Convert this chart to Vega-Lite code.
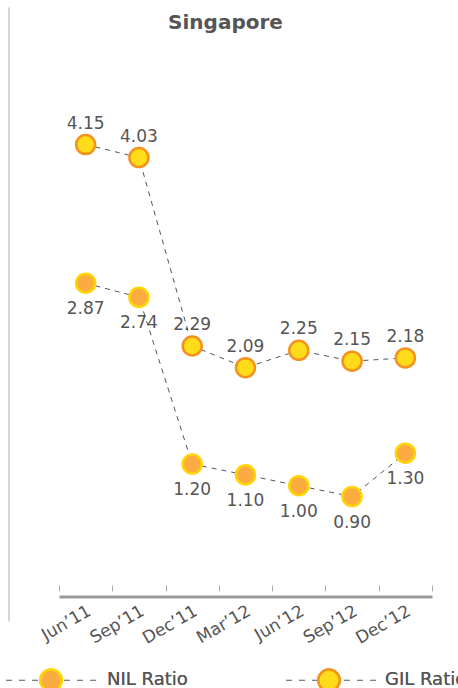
{
  "$schema": "https://vega.github.io/schema/vega-lite/v6.json",
  "width": 373,
  "height": 614,
  "autosize": {"type": "none"},
  "padding": {"left": 59, "top": 7, "right": 26, "bottom": 67},
  "background": "white",
  "title": {
    "text": "Singapore",
    "font": "DejaVu Sans",
    "fontSize": 20,
    "fontWeight": "bold",
    "color": "#555555",
    "baseline": "alphabetic",
    "offset": -42,
    "dx": -20
  },
  "data": {
    "values": [
      {"period": "Jun’11", "series": "NIL Ratio", "value": 2.87},
      {"period": "Sep’11", "series": "NIL Ratio", "value": 2.74},
      {"period": "Dec’11", "series": "NIL Ratio", "value": 1.20},
      {"period": "Mar’12", "series": "NIL Ratio", "value": 1.10},
      {"period": "Jun’12", "series": "NIL Ratio", "value": 1.00},
      {"period": "Sep’12", "series": "NIL Ratio", "value": 0.90},
      {"period": "Dec’12", "series": "NIL Ratio", "value": 1.30},
      {"period": "Jun’11", "series": "GIL Ratio", "value": 4.15},
      {"period": "Sep’11", "series": "GIL Ratio", "value": 4.03},
      {"period": "Dec’11", "series": "GIL Ratio", "value": 2.29},
      {"period": "Mar’12", "series": "GIL Ratio", "value": 2.09},
      {"period": "Jun’12", "series": "GIL Ratio", "value": 2.25},
      {"period": "Sep’12", "series": "GIL Ratio", "value": 2.15},
      {"period": "Dec’12", "series": "GIL Ratio", "value": 2.18}
    ]
  },
  "encoding": {
    "y": {
      "field": "value",
      "type": "quantitative",
      "scale": {"domain": [-0.249, 5.42], "nice": false, "zero": false},
      "axis": {
        "orient": "left",
        "offset": 50.5,
        "domain": true,
        "domainColor": "#c8c8c8",
        "domainWidth": 1.5,
        "ticks": false,
        "labels": false,
        "grid": false,
        "title": null
      }
    }
  },
  "layer": [
    {
      "transform": [{"filter": "false"}],
      "mark": {"type": "line", "color": "#555555", "strokeWidth": 1},
      "encoding": {
        "x": {"field": "period", "type": "ordinal", "sort": null, "scale": {"type": "band", "paddingInner": 0, "paddingOuter": 0}, "axis": null},
        "strokeDash": {
          "field": "series",
          "type": "nominal",
          "scale": {
            "domain": ["NIL Ratio", "GIL Ratio"],
            "range": [[6, 7, 6, 7, 6, 26, 6, 7, 6, 7, 6], [6, 7, 6, 7, 6, 26, 6, 7, 6, 7, 6]]
          },
          "legend": {
            "orient": "none",
            "legendX": -54.5,
            "legendY": 627.5,
            "direction": "horizontal",
            "title": null,
            "padding": 0,
            "symbolType": "stroke",
            "symbolSize": 8100,
            "symbolStrokeWidth": 1,
            "symbolStrokeColor": "#555555",
            "symbolOffset": 1,
            "symbolOpacity": 1,
            "labelExpr": "''",
            "labelFont": "DejaVu Sans",
            "labelFontSize": 18,
            "labelOffset": 11.5,
            "columnPadding": 175
          }
        }
      }
    },
    {
      "mark": {"type": "line", "color": "#555555", "strokeWidth": 1, "strokeDash": [5, 5]},
      "encoding": {
        "x": {
          "field": "period",
          "type": "ordinal",
          "sort": null,
          "scale": {"type": "band", "paddingInner": 0, "paddingOuter": 0},
          "axis": {
            "orient": "bottom",
            "offset": -36,
            "domain": false,
            "labels": false,
            "ticks": true,
            "tickSize": 6,
            "tickColor": "#aaaaaa",
            "tickWidth": 1,
            "tickBand": "extent",
            "grid": false,
            "title": null
          }
        },
        "detail": {"field": "series", "type": "nominal"}
      }
    },
    {
      "mark": {"type": "point", "filled": true, "size": 363, "strokeWidth": 2.5, "opacity": 1},
      "encoding": {
        "x": {
          "field": "period",
          "type": "ordinal",
          "sort": null,
          "scale": {"type": "band", "paddingInner": 0, "paddingOuter": 0},
          "axis": {
            "orient": "bottom",
            "offset": -24.5,
            "domain": true,
            "domainColor": "#999999",
            "domainWidth": 3,
            "ticks": false,
            "tickSize": 0,
            "labels": true,
            "labelAngle": -30,
            "labelAlign": "right",
            "labelBaseline": "top",
            "labelPadding": 6,
            "labelFont": "DejaVu Sans",
            "labelFontSize": 17,
            "labelColor": "#555555",
            "labelOverlap": false,
            "grid": false,
            "title": null
          }
        },
        "fill": {
          "field": "series",
          "type": "nominal",
          "sort": ["NIL Ratio", "GIL Ratio"],
          "scale": {"range": ["#FAAC41", "#FFDC1A"]},
          "legend": {
            "orient": "none",
            "legendX": -54.5,
            "legendY": 626.5,
            "direction": "horizontal",
            "title": null,
            "padding": 0,
            "symbolType": "M0.239,0A0.239,0.239,0,1,1,-0.239,0A0.239,0.239,0,1,1,0.239,0Z",
            "symbolSize": 8100,
            "symbolStrokeWidth": 2.5,
            "symbolFillColor": "#FAAC41",
            "symbolOpacity": 1,
            "labelFont": "DejaVu Sans",
            "labelFontSize": 18,
            "labelColor": "#555555",
            "labelOffset": 9.5,
            "columnPadding": 94,
            "encoding": {
              "symbols": {
                "fill": {"value": {"expr": "datum.value === 'NIL Ratio' ? '#FAAC41' : '#FFDC1A'"}},
                "stroke": {"value": {"expr": "datum.value === 'NIL Ratio' ? '#FFD400' : '#F5921E'"}}
              }
            }
          }
        },
        "stroke": {
          "field": "series",
          "type": "nominal",
          "sort": ["NIL Ratio", "GIL Ratio"],
          "scale": {"range": ["#FFD400", "#F5921E"]},
          "legend": {
            "orient": "none",
            "legendX": -54.5,
            "legendY": 626.5,
            "direction": "horizontal",
            "title": null,
            "padding": 0,
            "symbolType": "M0.239,0A0.239,0.239,0,1,1,-0.239,0A0.239,0.239,0,1,1,0.239,0Z",
            "symbolSize": 8100,
            "symbolStrokeWidth": 2.5,
            "symbolFillColor": "#FAAC41",
            "symbolOpacity": 1,
            "labelFont": "DejaVu Sans",
            "labelFontSize": 18,
            "labelColor": "#555555",
            "labelOffset": 9.5,
            "columnPadding": 94,
            "encoding": {
              "symbols": {
                "fill": {"value": {"expr": "datum.value === 'NIL Ratio' ? '#FAAC41' : '#FFDC1A'"}},
                "stroke": {"value": {"expr": "datum.value === 'NIL Ratio' ? '#FFD400' : '#F5921E'"}}
              }
            }
          }
        }
      }
    },
    {
      "transform": [{"filter": "datum.series === 'GIL Ratio'"}],
      "mark": {"type": "text", "font": "DejaVu Sans", "fontSize": 17, "color": "#555555", "dy": -21, "baseline": "middle", "align": "center"},
      "encoding": {
        "x": {"field": "period", "type": "ordinal", "sort": null, "scale": {"type": "band", "paddingInner": 0, "paddingOuter": 0}, "axis": null},
        "text": {"field": "value", "type": "quantitative", "format": ".2f"}
      }
    },
    {
      "transform": [{"filter": "datum.series === 'NIL Ratio'"}],
      "mark": {"type": "text", "font": "DejaVu Sans", "fontSize": 17, "color": "#555555", "dy": 26, "baseline": "middle", "align": "center"},
      "encoding": {
        "x": {"field": "period", "type": "ordinal", "sort": null, "scale": {"type": "band", "paddingInner": 0, "paddingOuter": 0}, "axis": null},
        "text": {"field": "value", "type": "quantitative", "format": ".2f"}
      }
    }
  ],
  "resolve": {"axis": {"x": "independent"}},
  "config": {"view": {"stroke": null}}
}
